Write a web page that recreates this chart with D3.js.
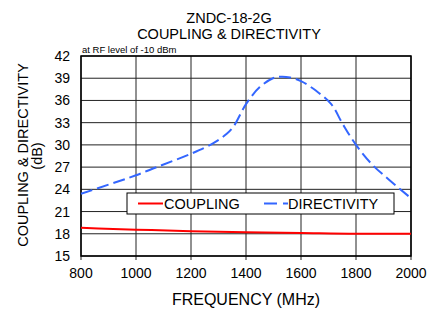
<!DOCTYPE html>
<html>
<head>
<meta charset="utf-8">
<script src="https://cdn.jsdelivr.net/npm/d3@7"></script>
<style>
  body { margin: 0; background: #fff; }
  svg { display: block; font-family: "Liberation Sans", Arial, sans-serif; }
</style>
</head>
<body>
<svg id="chart" width="429" height="309"></svg>
<script>
// Frequency grid and values
const xTicks = [800, 1000, 1200, 1400, 1600, 1800, 2000];
const yTicks = [15, 18, 21, 24, 27, 30, 33, 36, 39, 42];

const dirFreq = [800, 1000, 1075, 1200, 1280, 1330, 1355, 1400, 1450, 1498, 1525, 1560, 1600, 1655, 1710, 1752, 1800, 1860, 1920, 2000];
const dirVal  = [23.4, 25.9, 27.0, 28.8, 30.2, 31.5, 32.5, 35.5, 37.8, 39.0, 39.2, 39.1, 38.6, 37.3, 35.5, 32.8, 30.0, 27.3, 25.3, 22.8];

const coupFreq = [800, 1000, 1200, 1400, 1600, 1800, 2000];
const coupVal  = [18.8, 18.56, 18.34, 18.2, 18.1, 18.0, 18.0];

const svg = d3.select("#chart");
const margin = { top: 56, right: 18, bottom: 53, left: 81 };
const width = 429, height = 309;

// scales map straight to page coordinates so every text sits in svg space
const x = d3.scaleLinear().domain([800, 2000]).range([margin.left, width - margin.right]);
const y = d3.scaleLinear().domain([15, 42]).range([height - margin.bottom, margin.top]);
const [plotLeft, plotRight] = x.range();
const [plotBottom, plotTop] = y.range();

// Grid
svg.selectAll(".hgrid").data(yTicks).enter().append("line")
  .attr("x1", plotLeft).attr("x2", plotRight)
  .attr("y1", (d) => y(d)).attr("y2", (d) => y(d))
  .attr("stroke", "#222").attr("stroke-width", 1);
svg.selectAll(".vgrid").data(xTicks).enter().append("line")
  .attr("x1", (d) => x(d)).attr("x2", (d) => x(d))
  .attr("y1", plotTop).attr("y2", plotBottom + 4)
  .attr("stroke", "#222").attr("stroke-width", 1);

// Frame
svg.append("rect")
  .attr("x", plotLeft).attr("y", plotTop)
  .attr("width", plotRight - plotLeft).attr("height", plotBottom - plotTop)
  .attr("fill", "none").attr("stroke", "#000").attr("stroke-width", 1.5);

// Axis labels
svg.selectAll(".xlab").data(xTicks).enter().append("text")
  .attr("x", (d) => x(d)).attr("y", plotBottom + 22)
  .attr("text-anchor", "middle").style("font-size", "14px")
  .text((d) => d);
svg.selectAll(".ylab").data(yTicks).enter().append("text")
  .attr("x", plotLeft - 11).attr("y", (d) => y(d)).attr("dy", "0.36em")
  .attr("text-anchor", "end").style("font-size", "14px")
  .text((d) => d);

// Series
const line = d3.line().x((d) => x(d[0])).y((d) => y(d[1]));
svg.append("path")
  .datum(d3.zip(coupFreq, coupVal))
  .attr("d", line.curve(d3.curveMonotoneX))
  .attr("fill", "none").attr("stroke", "#ff0000").attr("stroke-width", 2);
svg.append("path")
  .datum(d3.zip(dirFreq, dirVal))
  .attr("d", line.curve(d3.curveCatmullRom))
  .attr("fill", "none").attr("stroke", "#3366ff").attr("stroke-width", 2)
  .attr("stroke-dasharray", "12,5");

// Legend
svg.append("rect").attr("x", 127).attr("y", 193).attr("width", 267).attr("height", 21)
  .attr("fill", "#fff").attr("stroke", "#000").attr("stroke-width", 1);
svg.append("line").attr("x1", 138).attr("x2", 163).attr("y1", 203.5).attr("y2", 203.5)
  .attr("stroke", "#ff0000").attr("stroke-width", 2);
svg.append("text").attr("x", 164).attr("y", 209).style("font-size", "14.5px").text("COUPLING");
svg.append("line").attr("x1", 264).attr("x2", 288).attr("y1", 203.5).attr("y2", 203.5)
  .attr("stroke", "#3366ff").attr("stroke-width", 2).attr("stroke-dasharray", "13,6");
svg.append("text").attr("x", 288).attr("y", 209).style("font-size", "14.5px").text("DIRECTIVITY");

// Titles
svg.append("text").attr("x", 229).attr("y", 23).attr("text-anchor", "middle")
  .style("font-size", "14.5px").text("ZNDC-18-2G");
svg.append("text").attr("x", 229).attr("y", 39).attr("text-anchor", "middle")
  .style("font-size", "14.5px").text("COUPLING & DIRECTIVITY");
svg.append("text").attr("x", 82).attr("y", 53)
  .style("font-size", "9.5px").text("at RF level of -10 dBm");
svg.append("text").attr("x", (plotLeft + plotRight) / 2).attr("y", 305)
  .attr("text-anchor", "middle").style("font-size", "16px").text("FREQUENCY (MHz)");
svg.append("text").attr("x", 28).attr("y", 155).attr("transform", "rotate(-90,28,155)")
  .attr("text-anchor", "middle").style("font-size", "14.5px").text("COUPLING & DIRECTIVITY");
svg.append("text").attr("x", 42).attr("y", 156).attr("transform", "rotate(-90,42,156)")
  .attr("text-anchor", "middle").style("font-size", "14.5px").text("(dB)");
</script>
</body>
</html>
